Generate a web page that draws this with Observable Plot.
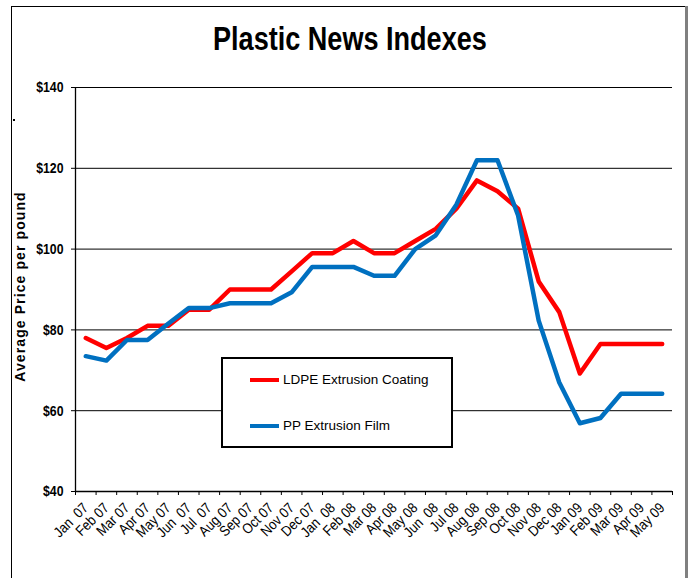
<!DOCTYPE html>
<html><head><meta charset="utf-8">
<script src="https://cdn.jsdelivr.net/npm/d3@7"></script>
<script src="https://cdn.jsdelivr.net/npm/@observablehq/plot@0.6"></script>
<style>
body{margin:0;background:#fff;width:691px;height:578px;position:relative;overflow:hidden;font-family:"Liberation Sans",Arial,sans-serif;}
#frame{position:absolute;left:11px;top:6px;width:676px;height:600px;border-left:1.5px solid #000;border-top:1.5px solid #000;}
#rborder{position:absolute;left:685px;top:6px;width:2.5px;height:600px;background:#808080;}
#dot{position:absolute;left:13px;top:119px;width:2px;height:2px;background:#000;}
#title{position:absolute;top:22px;left:0;width:699px;text-align:center;font-weight:bold;font-size:33px;line-height:33px;}
#title span{display:inline-block;transform:scaleX(0.82);transform-origin:50% 50%;white-space:nowrap;}
#chart{position:absolute;left:0;top:60px;}
#chart svg text{white-space:pre;}
#legend{position:absolute;left:221px;top:357px;width:228px;height:87px;border:2px solid #000;background:#fff;}
.swatch{position:absolute;left:27px;width:29px;height:3.5px;}
.lbl{position:absolute;left:60px;font-size:13.5px;white-space:nowrap;line-height:16px;}
</style>
</head><body>
<div id="frame"></div>
<div id="rborder"></div>
<div id="dot"></div>
<div id="title"><span></span></div>
<div id="chart"></div>
<div id="legend"></div>
<script>
const chartTitle = "Plastic News Indexes";
const yTitle = "Average Price per pound";
const months = ["Jan  07","Feb 07","Mar 07","Apr 07","May 07","Jun  07","Jul  07","Aug 07","Sep 07","Oct 07","Nov 07","Dec 07",
  "Jan  08","Feb 08","Mar 08","Apr 08","May 08","Jun  08","Jul 08","Aug 08","Sep 08","Oct 08","Nov 08","Dec 08",
  "Jan 09","Feb 09","Mar 09","Apr 09","May 09"];
const ldpe = [78,75.5,78,81,81,85,85,90,90,90,94.5,99,99,102,99,99,102,105,110,117,114.3,110,92,84.4,69.2,76.5,76.5,76.5,76.5];
const pp   = [73.5,72.4,77.5,77.5,81.5,85.4,85.4,86.6,86.6,86.6,89.3,95.6,95.6,95.6,93.4,93.4,100,103.4,111,122,122,108.3,82.3,67,56.9,58.2,64.2,64.2,64.2];
const seriesNames = ["LDPE Extrusion Coating","PP Extrusion Film"];
const seriesColors = ["#FF0000","#0070C0"];
const yTicks = [40,60,80,100,120,140];

document.querySelector("#title span").textContent = chartTitle;

const seriesValues = [ldpe, pp];
const data = seriesNames.flatMap((s, k) => months.map((m, i) => ({i, month: m, series: s, value: seriesValues[k][i]})));
const boundaries = d3.range(months.length + 1).map(i => i - 0.5);
const centers = d3.range(months.length);

const chart = Plot.plot({
  width: 691, height: 518,
  marginTop: 27, marginBottom: 87, marginLeft: 75, marginRight: 19,
  x: {domain: [-0.5, months.length - 0.5]},
  y: {domain: [40, 140]},
  color: {domain: seriesNames, range: seriesColors},
  style: {fontFamily: "'Liberation Sans', Arial, sans-serif", background: "transparent", color: "#000"},
  marks: [
    Plot.gridY(yTicks.slice(1), {stroke: "#000", strokeOpacity: 1, strokeWidth: 1}),
    Plot.ruleY([40], {stroke: "#000", strokeWidth: 1.3}),
    Plot.ruleX([-0.5], {stroke: "#000", strokeWidth: 1.3}),
    Plot.axisY({ticks: yTicks, tickFormat: d => "$" + d, tickSize: 4, tickPadding: 8, label: null,
      fontWeight: "bold", fontSize: 15}),
    Plot.axisX({ticks: boundaries, tickFormat: () => "", tickSize: 4, label: null}),
    Plot.axisX({ticks: centers, tickFormat: i => months[i], tickSize: 0, tickPadding: 14, tickRotate: -45, label: null, fontSize: 14.5}),
    Plot.line(data, {x: "i", y: "value", z: "series", stroke: "series", strokeWidth: 4.5}),
    Plot.text([yTitle], {frameAnchor: "left", textAnchor: "middle", dx: -55, dy: -3, rotate: -90, fontWeight: "bold", fontSize: 14})
  ]
});
document.getElementById("chart").appendChild(chart);
chart.querySelectorAll("text").forEach(t => { if (t.textContent === yTitle) t.style.letterSpacing = "1.1px"; });
// narrow-font look for tick labels
chart.querySelectorAll('g[aria-label="y-axis tick label"] text').forEach(t => {
  const tr = t.getAttribute("transform");
  if (tr) t.setAttribute("transform", tr + " scale(0.82,1)");
});
chart.querySelectorAll('g[aria-label="x-axis tick label"] text').forEach(t => {
  const tr = t.getAttribute("transform");
  if (tr) t.setAttribute("transform", tr + " scale(0.88,1)");
});

// legend
const legend = document.getElementById("legend");
const rowsTop = [21, 67];
seriesNames.forEach((s, k) => {
  const sw = document.createElement("div");
  sw.className = "swatch";
  sw.style.top = (rowsTop[k] - 1.75) + "px";
  sw.style.background = seriesColors[k];
  legend.appendChild(sw);
  const lb = document.createElement("div");
  lb.className = "lbl";
  lb.style.top = (rowsTop[k] - 8) + "px";
  lb.textContent = s;
  legend.appendChild(lb);
});
</script>
</body></html>
